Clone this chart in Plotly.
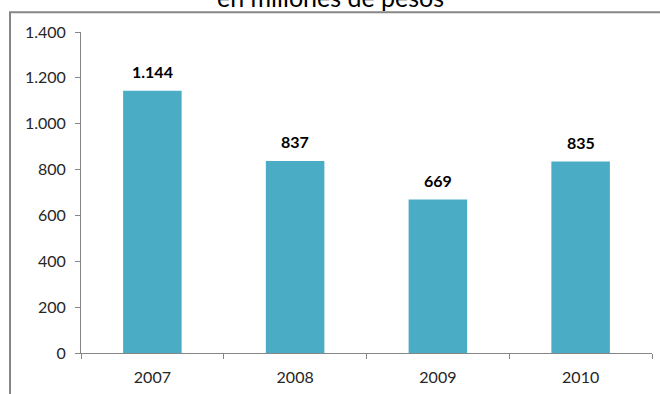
import plotly.graph_objects as go

# Annual totals, in millions of pesos
years = ["2007", "2008", "2009", "2010"]
values = [1144, 837, 669, 835]
y_ticks = [0, 200, 400, 600, 800, 1000, 1200, 1400]

bar_color = "#4BACC6"
grid_gray = "#868686"
font_family = "Lato, 'Open Sans', sans-serif"

fig = go.Figure(
    go.Bar(
        x=years,
        y=values,
        marker=dict(color=bar_color, line=dict(width=0)),
        width=0.41,
        hoverinfo="skip",
    )
)

# Bold value labels above each bar (positioned by category index)
for i, v in enumerate(values):
    fig.add_annotation(
        x=i,
        y=v,
        text=f"{v:,}".replace(",", "."),
        showarrow=False,
        yanchor="bottom",
        yshift=8,
        font=dict(family=font_family, size=16, color="#000000", weight="bold"),
    )

# Chart title, sitting at the very top edge of the page
fig.add_annotation(
    text="en millones de pesos",
    xref="paper",
    yref="paper",
    x=0.4378,
    y=1.108,
    xanchor="center",
    yanchor="middle",
    showarrow=False,
    font=dict(family=font_family, size=25, color="#000000"),
)

# Outer chart frame (extends past the right and bottom edges)
fig.add_shape(
    type="rect",
    xref="paper",
    yref="paper",
    x0=-0.1243,
    x1=1.5,
    y0=-0.5,
    y1=1.0619,
    line=dict(color=grid_gray, width=2),
    fillcolor="rgba(0,0,0,0)",
    layer="below",
)

fig.update_layout(
    width=660,
    height=394,
    margin=dict(l=81, r=8, t=32, b=39),
    paper_bgcolor="white",
    plot_bgcolor="white",
    separators=",.",
    showlegend=False,
    xaxis=dict(
        type="category",
        categoryorder="array",
        categoryarray=years,
        range=[-0.5, 3.5],
        showline=True,
        linecolor=grid_gray,
        linewidth=1,
        ticks="outside",
        tickson="boundaries",
        ticklen=5,
        tickcolor=grid_gray,
        tickangle=0,
        ticklabelstandoff=10,
        showgrid=False,
        tickfont=dict(family=font_family, size=16, color="#262626"),
        fixedrange=True,
    ),
    yaxis=dict(
        range=[0, 1400],
        tickvals=y_ticks,
        tickformat=",d",
        showline=True,
        linecolor=grid_gray,
        linewidth=1,
        ticks="outside",
        ticklen=5,
        tickcolor=grid_gray,
        ticklabelstandoff=6,
        showgrid=False,
        zeroline=False,
        tickfont=dict(family=font_family, size=16, color="#262626"),
        fixedrange=True,
    ),
)

fig.write_html("out.html")
